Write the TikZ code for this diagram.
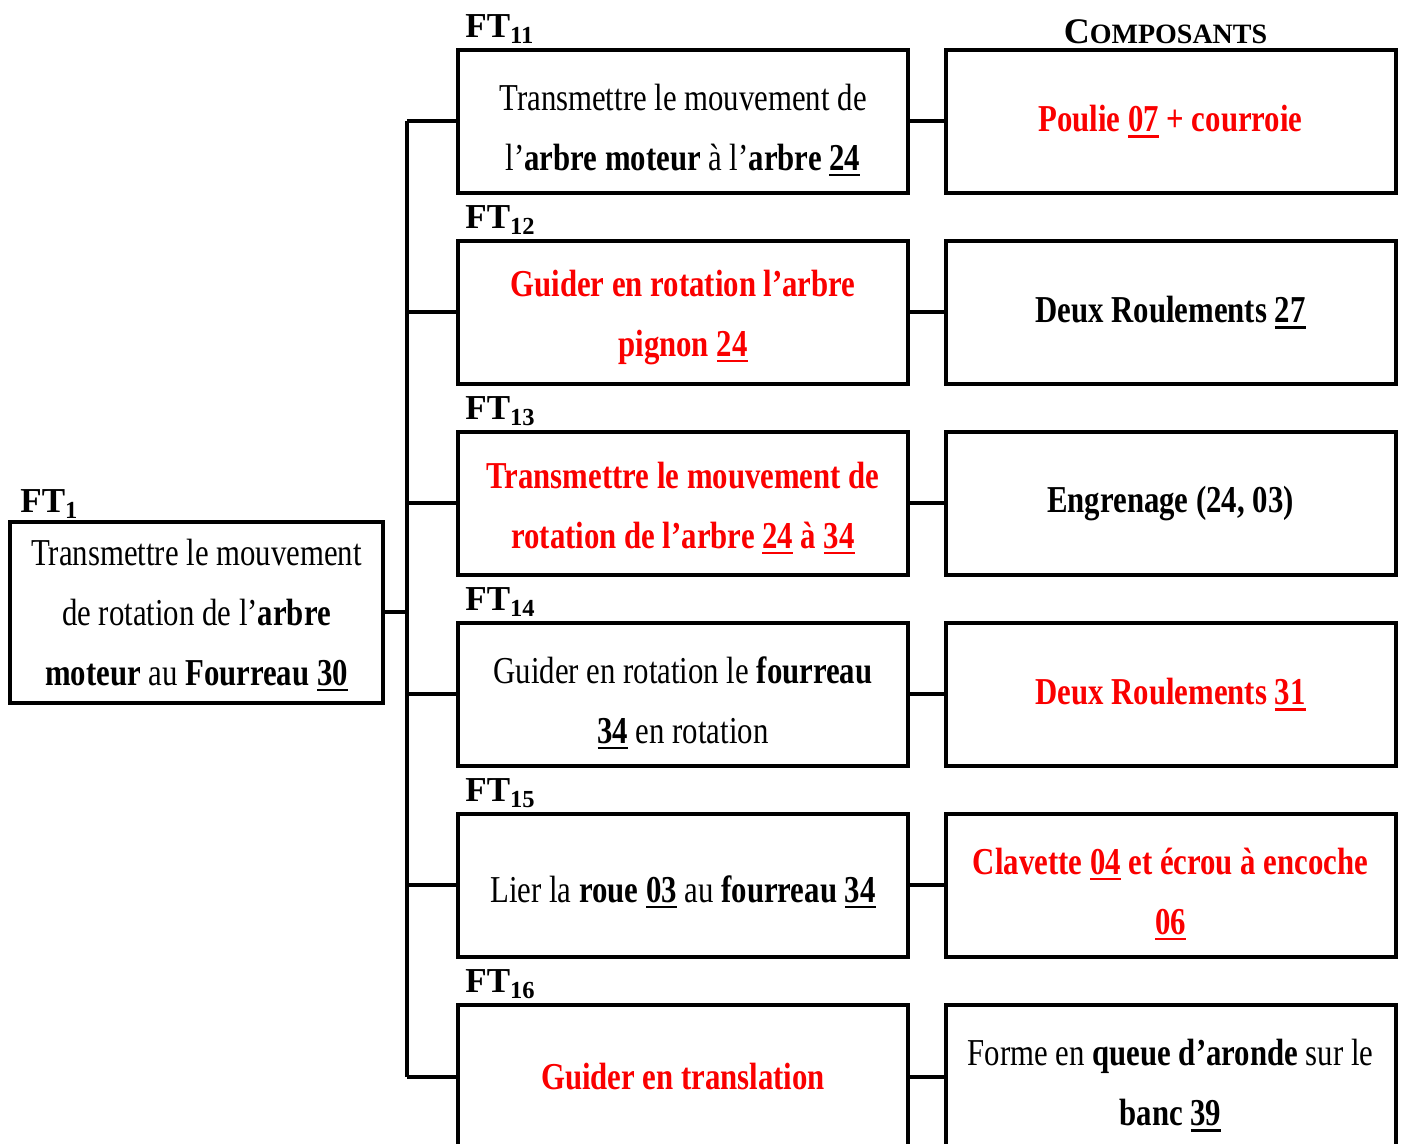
\documentclass[tikz,border=0pt]{standalone}
\usepackage{fontspec}
\setmainfont{Liberation Serif}[FakeStretch=0.81]
\newfontfamily\entete{Liberation Serif}
\usepackage{xcolor}
\usepackage{tikz}
\usetikzlibrary{calc}
\usetikzlibrary{positioning}
\definecolor{rouge}{RGB}{250,0,0}

% texte des cases et reperes soulignes
\newcommand{\txt}{\fontsize{19}{30}\selectfont}
\newcommand{\piece}[1]{\setbox0\hbox{#1}\rlap{\rule[-3pt]{\wd0}{1.4pt}}\box0\relax}
\newcommand{\haut}[1][22pt]{\rule{0pt}{#1}}

\tikzset{
	fbox/.style={draw, line width=2pt, align=center, inner sep=0pt,
		minimum width=225pt, minimum height=71.5pt, font=\txt},
	ftlab/.style={anchor=base west, inner sep=0pt, font=\entete\fontsize{17.5}{20}\selectfont\bfseries},
	lien/.style={line width=2pt}
}

\begin{document}
\begin{tikzpicture}[x=0.5pt,y=-0.5pt]
	
	\useasboundingbox (0,0) rectangle (1405,1144);
	
	% fonction principale
	\node [fbox, minimum width=186.5pt, minimum height=90.5pt] (ft1) at (196.5,612.5)
		{\haut[16pt]Transmettre le mouvement\\ de rotation de l’\textbf{arbre}\\ \textbf{moteur} au \textbf{Fourreau \piece{30}}};
	\node [ftlab] at ([xshift=6pt,yshift=3.5pt]ft1.north west) {FT\textsubscript{1}};
	
	% fonctions techniques
	\node [fbox] (ft11) at (683,121.5)
		{\haut Transmettre le mouvement de\\ l’\textbf{arbre moteur} à l’\textbf{arbre \piece{24}}};
	\node [fbox, text=rouge, font=\txt\bfseries] (ft12) at (683,312.5)
		{\haut[18pt]Guider en rotation l’arbre\\ pignon \piece{24}};
	\node [fbox, text=rouge, font=\txt\bfseries] (ft13) at (683,503.5)
		{\haut[18pt]Transmettre le mouvement de\\ rotation de l’arbre \piece{24} à \piece{34}};
	\node [fbox] (ft14) at (683,694.5)
		{\haut Guider en rotation le \textbf{fourreau}\\ \textbf{\piece{34}} en rotation};
	\node [fbox] (ft15) at (683,885.5)
		{\haut[20pt]Lier la \textbf{roue \piece{03}} au \textbf{fourreau \piece{34}}};
	\node [fbox, text=rouge, font=\txt\bfseries] (ft16) at (683,1076.5)
		{Guider en translation};
	
	\node [ftlab] at ([xshift=4.5pt,yshift=5pt]ft11.north west) {FT\textsubscript{11}};
	\node [ftlab] at ([xshift=4.5pt,yshift=5pt]ft12.north west) {FT\textsubscript{12}};
	\node [ftlab] at ([xshift=4.5pt,yshift=5pt]ft13.north west) {FT\textsubscript{13}};
	\node [ftlab] at ([xshift=4.5pt,yshift=5pt]ft14.north west) {FT\textsubscript{14}};
	\node [ftlab] at ([xshift=4.5pt,yshift=5pt]ft15.north west) {FT\textsubscript{15}};
	\node [ftlab] at ([xshift=4.5pt,yshift=5pt]ft16.north west) {FT\textsubscript{16}};
	
	% composants
	\node [fbox, text=rouge, font=\txt\bfseries] (cp11) at (1170.5,121.5)
		{Poulie \piece{07} + courroie};
	\node [fbox, font=\txt\bfseries] (cp12) at (1170.5,312.5)
		{Deux Roulements \piece{27}};
	\node [fbox, font=\txt\bfseries] (cp13) at (1170.5,503.5)
		{Engrenage (24, 03)};
	\node [fbox, text=rouge, font=\txt\bfseries] (cp14) at (1170.5,694.5)
		{Deux Roulements \piece{31}};
	\node [fbox, text=rouge, font=\txt\bfseries] (cp15) at (1170.5,885.5)
		{\haut Clavette \piece{04} et écrou à encoche\\ \piece{06}};
	\node [fbox] (cp16) at (1170.5,1076.5)
		{\haut Forme en \textbf{queue d’aronde} sur le\\ \textbf{banc \piece{39}}};
	
	\node [anchor=base, inner sep=0pt, font=\entete\bfseries] at ([xshift=-2.5pt,yshift=2pt]cp11.north)
		{{\fontsize{18}{20}\selectfont C}{\fontsize{14}{20}\selectfont OMPOSANTS}};
	
	% liaisons
	\coordinate (bus) at (407,612.5);
	\draw [lien] (ft1.east) -- (bus);
	\draw [lien] (ft11.west -| bus) -- (ft16.west -| bus);
	\draw [lien] (ft11.west) -- (ft11.west -| bus);
	\draw [lien] (ft12.west) -- (ft12.west -| bus);
	\draw [lien] (ft13.west) -- (ft13.west -| bus);
	\draw [lien] (ft14.west) -- (ft14.west -| bus);
	\draw [lien] (ft15.west) -- (ft15.west -| bus);
	\draw [lien] (ft16.west) -- (ft16.west -| bus);
	
	\draw [lien] (ft11) -- (cp11);
	\draw [lien] (ft12) -- (cp12);
	\draw [lien] (ft13) -- (cp13);
	\draw [lien] (ft14) -- (cp14);
	\draw [lien] (ft15) -- (cp15);
	\draw [lien] (ft16) -- (cp16);
	
\end{tikzpicture}
\end{document}
